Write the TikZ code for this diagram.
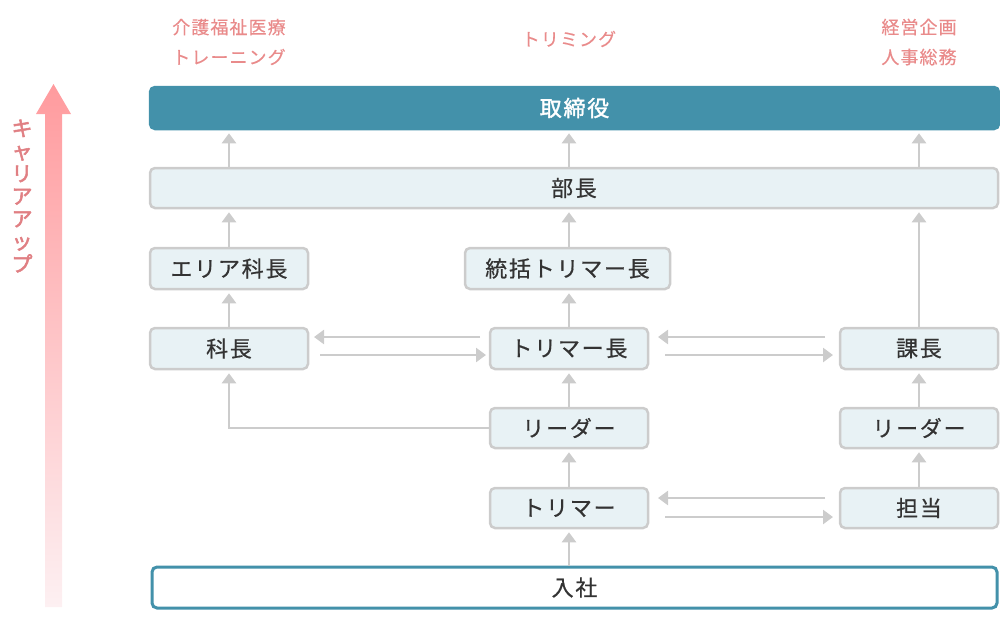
\documentclass[tikz,border=0pt]{standalone}
\usepackage{fontspec}
\usetikzlibrary{arrows.meta}
\newfontfamily\jp[LetterSpace=8,FakeBold=0.6]{Noto Sans CJK JP}
\newfontfamily\jpb[LetterSpace=8,FakeBold=1.6]{Noto Sans CJK JP}
\newfontfamily\jpv[FakeBold=2.5]{Noto Sans CJK JP}
\newfontfamily\jpl[LetterSpace=6,FakeBold=0.3]{Noto Sans CJK JP}
\definecolor{teal}{HTML}{4391AA}
\definecolor{boxfill}{HTML}{E8F2F5}
\definecolor{boxline}{HTML}{CCCCCC}
\definecolor{connc}{HTML}{CCCCCC}
\definecolor{textc}{HTML}{333333}
\definecolor{salmon}{HTML}{E98B8B}
\definecolor{vsalmon}{HTML}{E07F83}
\definecolor{gtop}{HTML}{FF9B9E}
\definecolor{gbot}{HTML}{FDF0F2}
\tikzset{
  box/.style={draw=boxline, fill=boxfill, line width=2.5pt, rounded corners=5pt,
    minimum height=40pt, minimum width=158pt, inner sep=0pt, text=textc,
    font=\jp\fontsize{22}{22}\selectfont},
  conn/.style={draw=connc, line width=2.5pt, -{Triangle[width=14pt,length=10pt]}},
  toplabel/.style={text=salmon, align=center, font=\jpl\fontsize{18}{30}\selectfont}
}
\begin{document}
\begin{tikzpicture}[x=1pt,y=-1pt]
\useasboundingbox (0,0) rectangle (1000,630);
% career-up arrow
\shade[top color=gtop, bottom color=gbot] (45,607) -- (45,114) -- (36,114) -- (53.5,84) -- (71,114) -- (62,114) -- (62,607) -- cycle;
\node[text=vsalmon, align=center, font=\jpv\fontsize{21}{22.6}\selectfont] (career) at (22,196) {キ\\ャ\\リ\\ア\\ア\\ッ\\プ};
% top labels
\node[toplabel] (lab1) at (229,42) {介護福祉医療\\トレーニング};
\node[toplabel] (lab2) at (569,39) {トリミング};
\node[toplabel] (lab3) at (919,42) {経営企画\\人事総務};
% nodes
\node[box, draw=teal, fill=teal, text=white, minimum width=849pt, minimum height=42pt, font=\jpb\fontsize{22}{22}\selectfont] (tori) at (574.5,108) {取締役};
\node[box, minimum width=848pt] (bucho) at (574,188) {部長};
\node[box, minimum height=41pt] (area) at (229,268.5) {エリア科長};
\node[box, minimum height=41pt, minimum width=205pt] (tokatsu) at (567.5,268.5) {統括トリマー長};
\node[box, minimum height=41pt] (kacho) at (229,348.5) {科長};
\node[box, minimum height=41pt] (tcho) at (569,348.5) {トリマー長};
\node[box, minimum height=41pt] (kacho2) at (919,348.5) {課長};
\node[box] (lead1) at (569,428) {リーダー};
\node[box] (lead2) at (919,428) {リーダー};
\node[box] (trim) at (569,508) {トリマー};
\node[box] (tanto) at (919,508) {担当};
\node[box, draw=teal, fill=white, line width=3pt, minimum width=845pt, minimum height=41pt] (nyusha) at (574.5,587.5) {入社};
% vertical connectors
\begin{scope}[shorten >=3pt]
\draw[conn] (bucho.north -| area) -- (tori.south -| area);
\draw[conn] (bucho.north -| tcho) -- (tori.south -| tcho);
\draw[conn] (bucho.north -| kacho2) -- (tori.south -| kacho2);
\draw[conn] (area.north) -- (bucho.south -| area);
\draw[conn] (tokatsu.north -| tcho) -- (bucho.south -| tcho);
\draw[conn] (kacho2.north) -- (bucho.south -| kacho2);
\draw[conn] (kacho.north) -- (area.south);
\draw[conn] (tcho.north) -- (tokatsu.south -| tcho);
\draw[conn] (lead1.north) -- (tcho.south);
\draw[conn] (trim.north) -- (lead1.south);
\draw[conn] (nyusha.north -| trim) -- (trim.south);
\draw[conn] (tanto.north) -- (lead2.south);
\draw[conn] (lead2.north) -- (kacho2.south);
\draw[conn] (lead1.west) -| (kacho.south);
\end{scope}
% horizontal pairs
\coordinate (a1s) at (480,337); \coordinate (a1e) at (314,337);
\coordinate (a2s) at (320,355); \coordinate (a2e) at (486,355);
\coordinate (b1s) at (825,337); \coordinate (b1e) at (658,337);
\coordinate (b2s) at (665,355); \coordinate (b2e) at (833,355);
\coordinate (c1s) at (825,498); \coordinate (c1e) at (658,498);
\coordinate (c2s) at (665,517); \coordinate (c2e) at (833,517);
\draw[conn] (a1s) -- (a1e);
\draw[conn] (a2s) -- (a2e);
\draw[conn] (b1s) -- (b1e);
\draw[conn] (b2s) -- (b2e);
\draw[conn] (c1s) -- (c1e);
\draw[conn] (c2s) -- (c2e);
\end{tikzpicture}
\end{document}
